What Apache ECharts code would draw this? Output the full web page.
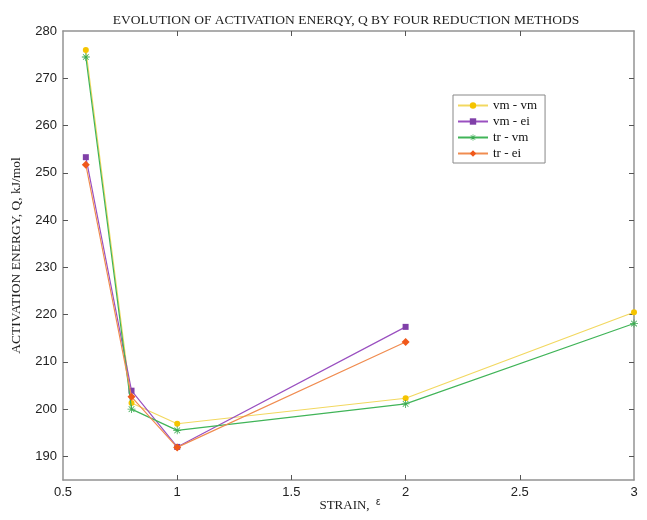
<!DOCTYPE html>
<html>
<head>
<meta charset="utf-8">
<script src="https://cdn.jsdelivr.net/npm/echarts@6/dist/echarts.min.js"></script>
<style>html,body{margin:0;padding:0;background:#fff;}#c{width:647px;height:520px;}</style>
</head>
<body>
<div id="c"></div>
<script>
const strainA = [0.6, 0.8, 1, 2, 3];
const strainB = [0.6, 0.8, 1, 2];
const vmvm = [276.0, 201.3, 196.9, 202.3, 220.5];
const vmei = [253.3, 203.9, 192.0, 217.4];
const trvm = [274.5, 200.0, 195.5, 201.1, 218.1];
const trei = [251.7, 202.6, 191.9, 214.2];
const yTicks = [190, 200, 210, 220, 230, 240, 250, 260, 270, 280];
const xTicks = [0.5, 1, 1.5, 2, 2.5, 3];
const names = ['vm - vm', 'vm - ei', 'tr - vm', 'tr - ei'];

const star = 'path://M9,0L11,0L11,20L9,20Z M0,9L20,9L20,11L0,11Z M16.36,2.22L17.78,3.64L3.64,17.78L2.22,16.36Z M2.22,3.64L3.64,2.22L17.78,16.36L16.36,17.78Z';

function pts(xs, ys){ return xs.map((x,i)=>[x, ys[i]]); }

const axisCol = '#939393';
const chart = echarts.init(document.getElementById('c'));
const baseX = {
  type: 'value', min: 0.5, max: 3,
  axisLine: {show: true, onZero: false, lineStyle: {color: axisCol, width: 1.5}},
  axisTick: {show: true, inside: true, length: 5, customValues: [1, 1.5, 2, 2.5], lineStyle: {color: '#555'}},
  splitLine: {show: false}
};
const baseY = {
  type: 'value', min: 185, max: 280,
  axisLine: {show: true, onZero: false, lineStyle: {color: axisCol, width: 1.5}},
  axisTick: {show: true, inside: true, length: 5, customValues: yTicks.slice(0, -1), lineStyle: {color: '#555'}},
  splitLine: {show: false}
};
chart.setOption({
  backgroundColor: '#fff',
  animation: false,
  title: {
    text: 'EVOLUTION OF ACTIVATION ENERQY, Q BY FOUR REDUCTION METHODS',
    left: 341, top: 8, textAlign: 'center',
    textStyle: {fontFamily: 'Liberation Serif', fontSize: 13.5, fontWeight: 'normal', color: '#222'}
  },
  grid: {left: 63, right: 13, top: 31, bottom: 40, containLabel: false, outerBoundsMode: 'none'},
  legend: {
    orient: 'vertical', left: 453, top: 95,
    backgroundColor: '#fff', borderColor: '#888', borderWidth: 1,
    padding: [4, 8, 3, 4], itemGap: 3, itemWidth: 30, itemHeight: 8,
    textStyle: {fontFamily: 'Liberation Serif', fontSize: 13, color: '#111'},
    data: names
  },
  graphic: [{
    type: 'text', x: 350, y: 506,
    style: {
      text: '{a|STRAIN,  }{b|ε}', align: 'center', verticalAlign: 'middle',
      rich: {
        a: {fontFamily: 'Liberation Serif', fontSize: 13, fill: '#222'},
        b: {fontFamily: 'Liberation Sans', fontSize: 10, fill: '#222', padding: [0, 0, 7, 0]}
      }
    }
  }],
  xAxis: [
    Object.assign({}, baseX, {
      position: 'bottom',
      axisLabel: {show: true, customValues: xTicks, margin: 6, fontFamily: 'Liberation Sans', fontSize: 13, color: '#222'}
    }),
    Object.assign({}, baseX, {position: 'top', axisLabel: {show: false}})
  ],
  yAxis: [
    Object.assign({}, baseY, {
      position: 'left',
      name: 'ACTIVATION ENERGY, Q, kJ/mol', nameLocation: 'middle', nameGap: 40, nameMoveOverlap: false,
      nameTextStyle: {fontFamily: 'Liberation Serif', fontSize: 13.5, color: '#222'},
      axisLabel: {show: true, customValues: yTicks, margin: 6, fontFamily: 'Liberation Sans', fontSize: 13, color: '#222'}
    }),
    Object.assign({}, baseY, {position: 'right', axisLabel: {show: false}})
  ],
  series: [
    {name: names[0], type: 'line', data: pts(strainA, vmvm), symbol: 'circle', symbolSize: 6,
     itemStyle: {color: '#f5c400'}, lineStyle: {color: '#f2d860', width: 1.2}, z: 2},
    {name: names[1], type: 'line', data: pts(strainB, vmei), symbol: 'rect', symbolSize: 6,
     itemStyle: {color: '#8040a8'}, lineStyle: {color: '#9a50c0', width: 1.2}, z: 3},
    {name: names[2], type: 'line', data: pts(strainA, trvm), symbol: star, symbolSize: 8,
     itemStyle: {color: '#3aaa50'}, lineStyle: {color: '#40b458', width: 1.2}, z: 4},
    {name: names[3], type: 'line', data: pts(strainB, trei), symbol: 'diamond', symbolSize: 8,
     itemStyle: {color: '#f0581a'}, lineStyle: {color: '#f08c50', width: 1.2}, z: 5}
  ]
});
</script>
</body>
</html>
